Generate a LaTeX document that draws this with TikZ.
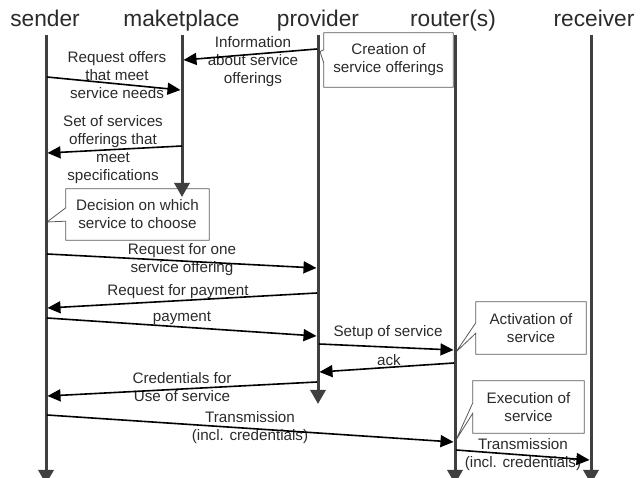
\documentclass[tikz,border=0pt]{standalone}
\usepackage{fontspec}
\setmainfont{Liberation Sans}
\usetikzlibrary{arrows.meta}
\definecolor{life}{HTML}{404040}
\definecolor{txt}{HTML}{2A2A2A}
\definecolor{cbord}{HTML}{5A5A5A}
\pgfdeclarelayer{back}
\pgfsetlayers{back,main}
\tikzset{
  lifeline/.style={draw=life, line width=3pt, -{Triangle[length=14pt,width=15pt]}},
  msg/.style={draw=black, line width=1.6pt, -{Triangle[length=13pt,width=12pt]}},
  head/.style={text=txt, font=\fontsize{22.7}{26}\selectfont, anchor=base, inner sep=0pt},
  lbl/.style={text=txt, font=\fontsize{15.2}{18}\selectfont, align=center, inner sep=0pt},
  cbox/.style={text=txt, font=\fontsize{15.2}{18}\selectfont, align=center, inner sep=0pt, draw=none},
  callout/.style={draw=cbord, line width=0.8pt, fill=white, line join=miter},
}
\begin{document}
\begin{tikzpicture}[x=1pt,y=-1pt]
\useasboundingbox (0,0) rectangle (641,478);
% headers
\node[head] (hS) at (45,27) {sender};
\node[head] (hM) at (181.5,27) {maketplace};
\node[head] (hP) at (318,27) {provider};
\node[head] (hR) at (453,27) {router(s)};
\node[head] (hV) at (594,27) {receiver};
% lifeline coordinates
\coordinate (S0) at (46,35);  \coordinate (S1) at (46,484);
\coordinate (M0) at (182,35); \coordinate (M1) at (182,197);
\coordinate (P0) at (318,35); \coordinate (P1) at (318,404);
\coordinate (R0) at (455,35); \coordinate (R1) at (455,484);
\coordinate (V0) at (591,35); \coordinate (V1) at (591,484);
% callout boxes (text)
\node[cbox, minimum width=129pt, minimum height=54pt] (C1) at (388.5,60) {Creation of\\service offerings};
\node[cbox, minimum width=143pt, minimum height=51pt] (C2) at (137.5,214.5) {Decision on which\\service to choose};
\node[cbox, minimum width=110pt, minimum height=52pt] (C3) at (531,328) {Activation of\\service};
\node[cbox, minimum width=111pt, minimum height=52pt] (C4) at (528.5,407) {Execution of\\service};
\coordinate (T1) at (320,51.5);
\coordinate (T2) at (47,222);
\coordinate (T3) at (456,352);
\coordinate (T4) at (456,440);
\begin{pgfonlayer}{back}
\draw[callout] (C1.north west) -- (C1.north east) -- (C1.south east) -- (C1.south west)
  -- ([yshift=24pt]C1.south west) -- (T1) -- ([yshift=-17pt]C1.north west) -- cycle;
\draw[callout] (C2.north west) -- (C2.north east) -- (C2.south east) -- (C2.south west)
  -- ([yshift=19pt]C2.south west) -- (T2) -- ([yshift=-19pt]C2.north west) -- cycle;
\draw[callout] (C3.north west) -- (C3.north east) -- (C3.south east) -- (C3.south west)
  -- ([yshift=21pt]C3.south west) -- (T3) -- ([yshift=-21pt]C3.north west) -- cycle;
\draw[callout] (C4.north west) -- (C4.north east) -- (C4.south east) -- (C4.south west)
  -- ([yshift=20pt]C4.south west) -- (T4) -- ([yshift=-22pt]C4.north west) -- cycle;
\end{pgfonlayer}
% lifelines
\draw[lifeline] (S0) -- (S1);
\draw[lifeline] (M0) -- (M1);
\draw[lifeline] (P0) -- (P1);
\draw[lifeline] (R0) -- (R1);
\draw[lifeline] (V0) -- (V1);
% message endpoints
\coordinate (a1) at (317,49);  \coordinate (b1) at (183.5,60);
\coordinate (a2) at (47,77);   \coordinate (b2) at (180.5,90);
\coordinate (a3) at (182,146); \coordinate (b3) at (47.5,153);
\coordinate (a6) at (47,254);  \coordinate (b6) at (316.5,268);
\coordinate (a7) at (317,293); \coordinate (b7) at (47.5,308);
\coordinate (a8) at (47,318);  \coordinate (b8) at (316.5,336);
\coordinate (a9) at (319,344); \coordinate (b9) at (453.5,350);
\coordinate (a10) at (454,363); \coordinate (b10) at (319.5,372);
\coordinate (a12) at (317,382); \coordinate (b12) at (47.5,396);
\coordinate (a15) at (47,415);  \coordinate (b15) at (453.5,442);
\coordinate (a16) at (456,450); \coordinate (b16) at (589.5,460);
% labels
\node[lbl] (l1) at (253,62) {Information\\about service\\offerings};
\node[lbl] (l2) at (117,75.5) {Request offers\\that meet\\service needs};
\node[lbl] (l3) at (113,149.5) {Set of services\\offerings that\\meet\\specifications};
\node[lbl] (l6) at (182,260) {Request for one\\service offering};
\node[lbl] (l7) at (178,292) {Request for payment};
\node[lbl] (l8) at (182,318) {payment};
\node[lbl] (l9) at (388,333) {Setup of service};
\node[lbl] (l10) at (389,360) {ack};
\node[lbl] (l12) at (182,387.5) {Credentials for\\Use of service};
\node[lbl] (l15) at (250,428) {Transmission\\(incl. credentials)};
\node[lbl] (l16) at (523,455) {Transmission\\(incl. credentials)};
% messages
\draw[msg] (a1) -- (b1);
\draw[msg] (a2) -- (b2);
\draw[msg] (a3) -- (b3);
\draw[msg] (a6) -- (b6);
\draw[msg] (a7) -- (b7);
\draw[msg] (a8) -- (b8);
\draw[msg] (a9) -- (b9);
\draw[msg] (a10) -- (b10);
\draw[msg] (a12) -- (b12);
\draw[msg] (a15) -- (b15);
\draw[msg] (a16) -- (b16);
\end{tikzpicture}
\end{document}
